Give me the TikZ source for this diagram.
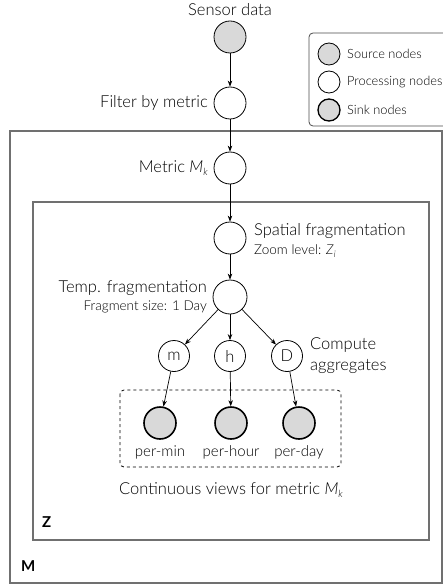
\documentclass[tikz,border=0pt]{standalone}
\usepackage{fontspec}
\setmainfont{Lato}[UprightFont=* Light, ItalicFont=* Light Italic, BoldFont=* Bold]
\usetikzlibrary{arrows.meta}
\definecolor{nodefill}{HTML}{D9D9D9}
\definecolor{framegray}{HTML}{707070}
\newcommand{\Mk}{\textit{M}\raisebox{-0.45ex}{\fontsize{10}{10}\selectfont\itshape k}}
\newcommand{\Zi}{\textit{Z}\raisebox{-0.45ex}{\fontsize{9}{9}\selectfont\itshape i}}
\begin{document}
\begin{tikzpicture}[x=1pt,y=-1pt,
  every node/.style={font=\fontsize{16.5}{18}\selectfont},
  proc/.style={circle,draw,line width=0.8pt,minimum size=32pt,inner sep=0pt,fill=white},
  src/.style={proc,fill=nodefill},
  sink/.style={proc,fill=nodefill,line width=1.6pt},
  frame/.style={draw=framegray,line width=1.3pt},
  flow/.style={-{Stealth[length=6pt,width=4.5pt]},line width=0.7pt},
  lbl/.style={inner sep=0pt},
  small/.style={inner sep=0pt,font=\fontsize{13.5}{15}\selectfont},
  legendtext/.style={inner sep=0pt,anchor=west,font=\fontsize{12.8}{14}\selectfont}]
\useasboundingbox (0,0) rectangle (443,585);
% nested frames
\draw[frame] (10,131) rectangle (442,583);
\draw[frame] (33,202) rectangle (429,540);
\node[lbl,anchor=west,font=\fontsize{15}{16}\selectfont\bfseries] (labM) at (21,566) {M};
\node[lbl,anchor=west,font=\fontsize{15}{16}\selectfont\bfseries] (labZ) at (42,522) {Z};
% legend
\draw[draw=black!70,line width=0.8pt,rounded corners=4pt,fill=white] (309,33) rectangle (450,126);
\node[src,minimum size=22pt] (lg1) at (329,54) {};
\node[proc,minimum size=22pt] (lg2) at (329,82) {};
\node[sink,minimum size=22pt,line width=1.3pt] (lg3) at (329,110) {};
\node[legendtext] at (347,54) {Source nodes};
\node[legendtext] at (347,82) {Processing nodes};
\node[legendtext] at (347,110) {Sink nodes};
% main chain
\node[lbl] (tsensor) at (230,10) {Sensor data};
\node[src] (sensor) at (230,37) {};
\node[proc] (filter) at (230,103) {};
\node[lbl,anchor=east] at (208,103) {Filter by metric};
\node[proc] (metric) at (230,168) {};
\node[lbl,anchor=east] at (208,168) {Metric \Mk};
\node[proc] (spatial) at (230,238) {};
\node[lbl,anchor=west] at (254,231) {Spatial fragmentation};
\node[small,anchor=west] at (254,251) {Zoom level: \Zi};
\node[proc,minimum size=34pt] (temp) at (230,297) {};
\node[lbl,anchor=east] at (207,288) {Temp. fragmentation};
\node[small,anchor=east] at (207,307) {Fragment size: 1 Day};
% aggregation nodes
\node[proc,minimum size=31pt] (m) at (174,356) {m};
\node[proc,minimum size=31pt] (h) at (230,356) {h};
\node[proc,minimum size=31pt] (D) at (287,356) {D};
\node[lbl,anchor=west] at (310,345) {Compute};
\node[lbl,anchor=west] at (310,366) {aggregates};
% continuous views
\draw[dashed,line width=0.8pt,rounded corners=4pt] (120,390) rectangle (341,467);
\node[sink] (pmin) at (160,423) {};
\node[sink] (phour) at (231,423) {};
\node[sink] (pday) at (299,423) {};
\node[small,font=\fontsize{15}{16}\selectfont] at (160,452) {per-min};
\node[small,font=\fontsize{15}{16}\selectfont] at (231,452) {per-hour};
\node[small,font=\fontsize{15}{16}\selectfont] at (299,452) {per-day};
\node[lbl] at (231,490) {Continuous views for metric \Mk};
% connectors
\draw[flow] (sensor) -- (filter);
\draw[flow] (filter) -- (metric);
\draw[flow] (metric) -- (spatial);
\draw[flow] (spatial) -- (temp);
\draw[flow] (temp) -- (m);
\draw[flow] (temp) -- (h);
\draw[flow] (temp) -- (D);
\draw[flow] (m) -- (pmin);
\draw[flow] (h) -- (phour);
\draw[flow] (D) -- (pday);
\end{tikzpicture}
\end{document}
